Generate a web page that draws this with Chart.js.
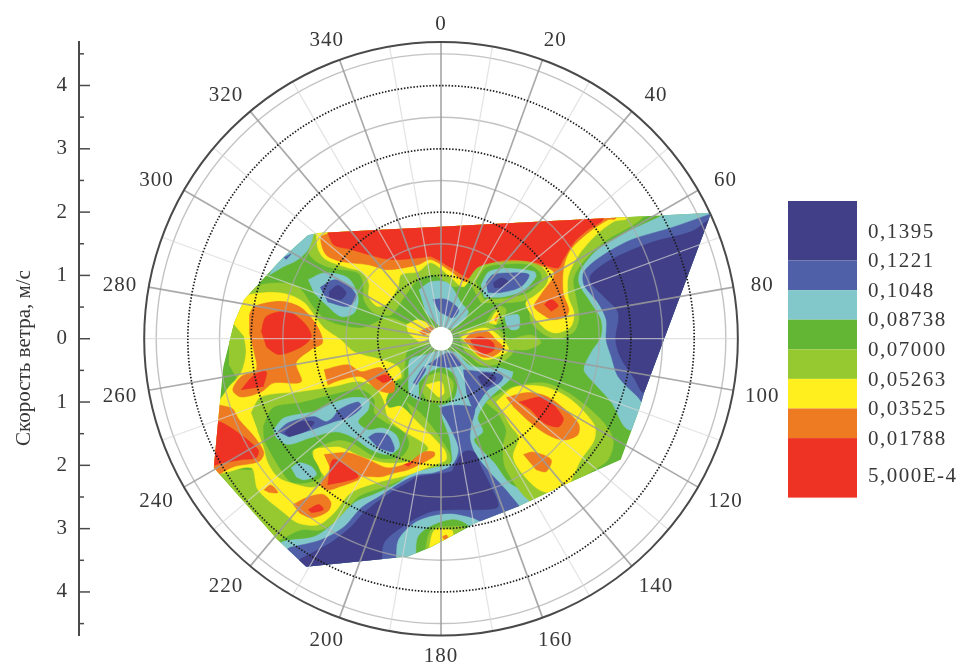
<!DOCTYPE html>
<html>
<head>
<meta charset="utf-8">
<title>Скорость ветра</title>
<script src="https://cdn.jsdelivr.net/npm/chart.js@4/dist/chart.umd.min.js"></script>
<style>
  html, body { margin: 0; background: #fff; }
  canvas { display: block; }
</style>
</head>
<body>
<canvas id="chart" width="960" height="670"></canvas>
<script>
// legend, darkest band first
const levelLabels = ['0,1395', '0,1221', '0,1048', '0,08738', '0,07000', '0,05263', '0,03525', '0,01788', '5,000E-4']
const bandColors = ['#403f87', '#5060a8', '#82c8cb', '#62b633', '#96c930', '#ffef1e', '#ee7a22', '#ee3224']
const [NAVY, BLUE, CYAN, GREEN, LIGHT, YELLOW, ORANGE, RED] = bandColors

// polar grid
const directionLabels = [0, 20, 40, 60, 80, 100, 120, 140, 160, 180, 200, 220, 240, 260, 280, 300, 320, 340]
const spokeDirections = [10, 30, 50, 70, 90, 110, 130, 150, 170, 190, 210, 230, 250, 270, 290, 310, 330, 350]
const dottedRings = [1, 2, 3, 4]
const solidRings = [1.5, 2.5, 3.5, 4.5]
const outerSpeed = 4.69
const hubSpeed = 0.19

// contour outlines, wind components [east, north] in m/s
const envelope = [[-1.94,1.67],[4.27,1.99],[3.21,-.85],[3.13,-1.12],[2.84,-1.91],[1.94,-2.31],[1.22,-2.65],[.55,-2.91],[-.16,-3.29],[-.52,-3.44],[-2.13,-3.60],[-2.58,-3.18],[-3.59,-2.04],[-3.52,-1.28],[-3.48,-.85],[-3.44,-.44],[-3.27,.25],[-3.11,.62],[-2.80,.96],[-2.48,1.30],[-2.10,1.64]]

const topLight = [[-2.02,1.64],[-2.09,1.36],[-1.97,1.22],[-1.74,1.12],[-1.31,1.04],[-1.23,.88],[-1.22,.62],[-1.06,.41],[-.79,.38],[-.58,.66],[-.36,.93],[-.11,1.01],[.21,.82],[.47,.90],[.63,.62],[1.37,.62],[1.42,.27],[1.66,.05],[1.85,0],[2.10,.11],[2.18,.33],[2.13,.66],[2.09,.93],[2.21,1.17],[2.56,1.52],[3.21,1.94],[3.21,2.3],[-2.02,2.3]]
const topYellow = [[-1.97,1.63],[-1.94,1.41],[-1.82,1.25],[-1.47,1.12],[-1.26,1.06],[-1.14,.88],[-1.14,.66],[-1.00,.51],[-.84,.57],[-.68,.82],[-.63,1.01],[-.36,1.06],[-.16,1.20],[.11,1.01],[.35,.82],[.52,1.04],[.74,1.14],[1.15,1.20],[1.47,1.17],[1.58,.98],[1.50,.77],[1.34,.54],[1.63,.17],[1.82,.09],[2.05,.19],[2.10,.41],[2.01,.66],[2.01,.98],[2.16,1.30],[2.42,1.61],[2.73,1.85],[2.95,1.91],[2.95,2.3],[-1.97,2.3]]
const topOrange = [[-1.77,1.67],[-1.90,1.60],[-1.82,1.33],[-1.58,1.22],[-1.15,1.17],[-.84,1.09],[-.36,1.17],[-.16,1.25],[.16,1.06],[.39,.90],[.58,1.01],[.84,1.12],[1.47,1.17],[1.79,1.04],[1.58,.70],[1.47,.51],[1.61,.38],[1.77,.30],[1.97,.35],[2.02,.46],[1.93,.73],[1.94,1.14],[2.05,1.41],[2.32,1.67],[2.64,1.88],[2.76,1.90],[2.76,2.3],[-1.77,2.3]]
const topRed = [[-1.79,1.67],[-1.69,1.48],[-1.42,1.41],[-1.15,1.33],[-.79,1.25],[-.32,1.28],[-.16,1.30],[.16,1.12],[.43,.96],[.52,1.01],[.74,1.17],[1.06,1.25],[1.42,1.22],[1.63,1.17],[1.85,1.12],[1.93,1.25],[2.10,1.52],[2.32,1.72],[2.57,1.90],[2.57,2.3],[-1.79,2.3]]
const smallRed = [[1.63,.54],[1.74,.62],[1.85,.52],[1.74,.43]]

const cellLight = [[.43,.93],[.58,1.12],[.84,1.20],[1.31,1.22],[1.58,1.14],[1.69,.98],[1.63,.82],[1.37,.62],[1.06,.57],[.63,.57]]
const cellGreen = [[.55,.90],[.71,1.12],[.95,1.17],[1.37,1.17],[1.55,1.06],[1.58,.93],[1.37,.73],[1.06,.65],[.68,.62]]
const cellCyan = [[.63,.85],[.76,1.06],[1.06,1.11],[1.47,1.06],[1.50,.98],[1.31,.77],[.98,.66],[.68,.66]]
const cellBlue = [[.71,.88],[.82,1.01],[1.11,1.04],[1.39,1.01],[1.26,.82],[.95,.73],[.74,.73]]
const cellNavy = [[.82,.88],[.95,.96],[1.06,.90],[.95,.81],[.84,.81]]
const eastCyan = [[1.00,.35],[1.22,.38],[1.23,.17],[1.11,.14],[1.03,.22]]
const sliverLight = [[.63,.14],[.90,.51],[1.03,.46],[.95,.25]]
const sliverYellow = [[.76,.25],[.87,.43],[.92,.43],[.87,.22]]
const sliverOrange = [[.84,.30],[.90,.38],[.87,.27]]

const hubEastLight = [[.27,.09],[.74,.22],[.95,.11],[1.15,-.17],[.95,-.38],[.63,-.41],[.36,-.17]]
const hubEastYellow = [[.32,.02],[.44,.11],[.71,.17],[.90,.06],[1.07,-.17],[.90,-.28],[.68,-.33],[.47,-.17]]
const hubEastOrange = [[.36,-.02],[.52,.11],[.74,.11],[.87,-.02],[.98,-.14],[.82,-.28],[.63,-.28],[.47,-.14]]
const hubEastRed = [[.46,-.02],[.63,.03],[.82,-.06],[.84,-.17],[.68,-.24],[.52,-.13]]
const eastStrip = [[1.07,-.02],[1.42,.06],[1.58,-.06],[1.37,-.17],[1.11,-.17]]

const eastEdgeCyan = [[3.52,1.96],[4.6,2.2],[3.6,-1.2],[2.97,-1.44],[2.69,-1.00],[2.42,-.70],[2.26,-.49],[2.37,-.22],[2.53,.03],[2.53,.30],[2.37,.57],[2.18,.88],[2.21,1.09],[2.48,1.41],[3.00,1.72]]
const eastEdgeBlue = [[4.23,1.96],[3.63,1.75],[3.00,1.56],[2.53,1.30],[2.26,1.06],[2.26,.85],[2.48,.57],[2.61,.30],[2.61,-.02],[2.69,-.28],[2.80,-.60],[3.11,-.92],[3.30,-1.12],[4.6,1.96]]
const eastEdgeNavy = [[4.23,1.88],[3.95,1.69],[3.32,1.52],[2.69,1.25],[2.37,1.01],[2.37,.88],[2.58,.66],[2.80,.41],[2.76,-.02],[2.84,-.30],[3.05,-.62],[3.21,-.84],[4.6,1.88]]

const hubNorthCyan = [[-.35,.77],[-.16,.90],[.11,.88],[.32,.57],[.43,.43],[.36,.30],[.19,.17],[0,.19],[-.24,.41]]
const hubNorthBlue = [[-.13,.62],[.08,.62],[.28,.46],[.19,.33],[-.03,.43]]
const hubWestYellow = [[-.55,.22],[-.36,.30],[-.11,.17],[-.16,.03],[-.32,-.05],[-.52,.09]]
const hubWestOrange = [[-.35,.11],[-.16,.19],[-.11,.14],[-.27,.05]]

const ovalGreen = [[-.35,-.70],[-.19,-.54],[.03,-.46],[.24,-.62],[.21,-.93],[.03,-1.04],[-.27,-1.04],[-.35,-.88]]
const ovalLight = [[-.32,-.81],[-.21,-.60],[0,-.54],[.19,-.68],[.16,-.88],[0,-1.01],[-.21,-.99]]
const ovalYellow = [[-.24,-.73],[0,-.68],[.05,-.85],[-.03,-.92],[-.13,-.84]]
const hubSouthBlue = [[-.21,-.41],[.13,-.22],[.32,-.41],[.08,-.46]]
const hubSliverBlue = [[-.44,-.70],[-.27,-.44],[-.24,-.49],[-.39,-.73]]
const hubSouthEastBlue = [[.35,-.49],[.63,-.52],[.87,-.54],[.98,-.60],[.92,-.70],[.74,-.81],[.60,-1.00],[.52,-1.12],[.40,-.85]]
const hubSouthEastNavy = [[.58,-.60],[.71,-.54],[.87,-.62],[.74,-.76],[.63,-.70]]

const southCyan = [[1.14,-.52],[1.11,-.62],[.95,-.77],[.71,-1.00],[.58,-1.25],[.66,-1.47],[.52,-1.60],[.71,-1.83],[.84,-1.96],[1.07,-2.27],[1.47,-2.53],[1.47,-3.0],[.55,-3.2],[-.16,-3.6],[-.52,-3.8],[-2.13,-3.9],[-2.8,-3.5],[-2.53,-3.22],[-2.01,-3.13],[-1.69,-2.91],[-1.37,-2.59],[-1.06,-2.46],[-.74,-2.31],[-.43,-2.12],[-.11,-2.04],[.16,-1.96],[.16,-1.75],[.13,-1.55],[.03,-1.28],[-.03,-1.07],[-.27,-1.00],[-.49,-.88],[-.51,-.57],[-.49,-.33],[-.24,-.25],[0,-.19],[.24,-.22],[.44,-.41],[.66,-.46],[.95,-.46]]
const southBlue = [[-2.40,-3.30],[-1.90,-3.18],[-1.53,-2.97],[-1.26,-2.67],[-1.00,-2.51],[-.63,-2.27],[-.36,-2.15],[-.11,-2.12],[.16,-2.01],[.25,-1.88],[.28,-1.75],[.24,-1.60],[.11,-1.33],[0,-1.09],[.52,-1.09],[.47,-1.39],[.46,-1.60],[.55,-1.83],[.76,-2.10],[1.06,-2.43],[1.30,-2.80],[.63,-2.88],[.51,-2.83],[.16,-2.76],[-.16,-2.80],[-.43,-2.91],[-.68,-3.18],[-.79,-3.7],[-2.13,-3.9],[-2.7,-3.5]]
const southNavy = [[-2.24,-3.49],[-1.74,-3.22],[-1.42,-2.97],[-1.22,-2.75],[-.84,-2.46],[-.52,-2.27],[-.36,-2.18],[.16,-2.10],[.21,-2.02],[.36,-1.79],[.52,-1.79],[.63,-2.02],[.79,-2.34],[.90,-2.65],[.63,-2.70],[.16,-2.70],[-.16,-2.73],[-.52,-2.91],[-.90,-3.22],[-1.00,-3.7],[-2.13,-3.9],[-2.5,-3.7]]
const tipGreen = [[-.39,-3.6],[-.36,-3.13],[-.11,-2.94],[.21,-2.86],[.44,-2.97],[.5,-3.3]]
const tipLight = [[-.28,-3.6],[-.16,-3.02],[.16,-2.97],[.36,-2.99],[.4,-3.3]]
const tipYellow = [[-.21,-3.5],[-.11,-3.03],[.16,-3.02],[.19,-3.06],[.2,-3.4]]
const tipOrange = [[.02,-3.13],[.08,-3.10],[.11,-3.14],[.05,-3.18]]

const southEastLight = [[.71,-1.01],[.82,-.93],[1.15,-.76],[1.63,-.70],[2.05,-.88],[2.53,-1.28],[2.72,-1.60],[2.64,-1.91],[2.37,-2.10],[1.94,-2.4],[1.47,-2.6],[1.03,-2.07],[.98,-1.71],[1.03,-1.44],[.90,-1.17]]
const southEastYellow = [[.87,-1.00],[1.15,-.77],[1.63,-.76],[2.05,-.96],[2.42,-1.36],[2.42,-1.60],[2.21,-1.91],[1.94,-2.4],[1.58,-2.4],[1.26,-2.10],[1.14,-1.86],[1.23,-1.56],[1.11,-1.39],[.95,-1.12]]
const southEastOrange = [[1.03,-.93],[1.37,-.85],[1.69,-.92],[2.05,-1.20],[2.18,-1.36],[2.16,-1.52],[1.94,-1.60],[1.69,-1.52],[1.42,-1.33],[1.14,-1.07]]
const southEastRed = [[1.23,-1.00],[1.63,-.93],[1.93,-1.25],[1.86,-1.39],[1.63,-1.33],[1.42,-1.12]]
const southEastOrangeLow = [[1.30,-1.83],[1.45,-1.79],[1.74,-1.91],[1.66,-2.10],[1.50,-2.07]]

const cornerCyan = [[-2.72,1.00],[-2.3,1.7],[-2.01,1.9],[-2.01,1.67],[-2.10,1.41],[-2.26,1.25],[-2.48,1.14]]
const cornerBlue = [[-2.48,1.28],[-2.37,1.34],[-2.45,1.25]]
const westCellCyan = [[-2.10,.93],[-1.85,1.04],[-1.47,.96],[-1.31,.66],[-1.37,.41],[-1.58,.35],[-1.82,.54],[-2.01,.73]]
const westCellBlue = [[-1.91,.81],[-1.69,.93],[-1.47,.85],[-1.34,.66],[-1.47,.51],[-1.79,.58]]
const westCellNavy = [[-1.77,.74],[-1.63,.84],[-1.50,.73],[-1.58,.62],[-1.77,.66]]

const westLight = [[-3.35,.09],[-3.21,.51],[-2.92,.82],[-2.58,.88],[-2.26,.82],[-2.01,.49],[-1.79,.28],[-1.26,.17],[-.84,.33],[-.58,.25],[-.21,.11],[-.16,-.06],[-.52,-.17],[-.58,-.49],[-.63,-.65],[-3.16,-.65],[-3.35,-.41]]
const lowLight = [[-3.7,-2.13],[-2.75,-3.2],[-2.21,-3.02],[-1.90,-3.02],[-1.63,-2.86],[-1.31,-2.50],[-.90,-2.34],[-.43,-2.15],[0,-1.99],[0,-1.83],[-2.21,-2.07],[-3.32,-2.07]]
const channelLight = [[-.55,-1.00],[-.28,-1.22],[.13,-1.80],[.13,-1.97],[-.10,-2.00]]
const westYellow = [[-3.29,.25],[-3.11,.65],[-2.76,.73],[-2.42,.70],[-2.16,.57],[-2.01,.38],[-1.85,.17],[-1.58,-.02],[-1.37,-.21],[-.95,-.33],[-.68,-.44],[-.63,-.60],[-.70,-.65],[-.87,-.96],[-.82,-1.09],[-.63,-1.07],[-.36,-1.33],[.05,-1.75],[.08,-1.91],[-.11,-1.99],[-.52,-2.15],[-1.00,-2.27],[-1.42,-2.43],[-1.69,-2.75],[-1.94,-2.94],[-2.26,-2.91],[-2.48,-2.75],[-2.89,-2.39],[-3.00,-2.04],[-3.51,-2.13],[-3.8,-2.04],[-3.8,-1.28],[-3.49,-.96],[-3.35,-.76],[-3.16,-.54],[-3.08,-.22],[-3.11,.03]]
const midLight = [[-3.00,-1.17],[-2.84,-.92],[-2.21,-.84],[-1.69,-.76],[-1.31,-.68],[-1.06,-.76],[-.92,-.96],[-.84,-1.25],[-.63,-1.44],[-.21,-1.72],[-.43,-1.91],[-.84,-1.96],[-1.22,-1.87],[-1.58,-1.71],[-1.79,-1.71],[-2.01,-1.75],[-2.01,-1.91],[-1.94,-2.07],[-1.85,-2.18],[-2.01,-2.34],[-2.37,-2.27],[-2.58,-2.18],[-2.73,-1.96],[-2.80,-1.71],[-2.90,-1.44]]
const midGreen = [[-2.81,-1.39],[-2.65,-1.09],[-2.21,-1.01],[-1.69,-.88],[-1.26,-.81],[-1.06,-.96],[-1.06,-1.17],[-.90,-1.31],[-.58,-1.49],[-.51,-1.67],[-.63,-1.86],[-1.00,-1.88],[-1.42,-1.64],[-1.63,-1.60],[-1.94,-1.71],[-2.05,-1.80],[-1.94,-2.02],[-1.90,-2.18],[-2.10,-2.27],[-2.37,-2.26],[-2.53,-2.07],[-2.69,-1.80],[-2.80,-1.60]]
const midCyan = [[-2.65,-1.44],[-2.48,-1.25],[-2.01,-1.15],[-1.69,-1.01],[-1.42,-.93],[-1.15,-.96],[-1.15,-1.12],[-1.31,-1.31],[-1.15,-1.44],[-.92,-1.41],[-.71,-1.52],[-.66,-1.71],[-.82,-1.83],[-1.11,-1.75],[-1.39,-1.56],[-1.66,-1.47],[-2.05,-1.56],[-2.42,-1.67],[-2.61,-1.56]]
const midBlue = [[-2.58,-1.47],[-2.42,-1.33],[-2.01,-1.23],[-1.82,-1.31],[-1.71,-1.25],[-1.61,-1.12],[-1.31,-1.00],[-1.26,-1.09],[-1.47,-1.25],[-1.69,-1.31],[-2.05,-1.44],[-2.42,-1.55]]
const midNavy = [[-2.48,-1.49],[-2.29,-1.33],[-2.01,-1.31],[-2.10,-1.44],[-2.40,-1.55]]
const midBlueLow = [[-1.15,-1.56],[-1.03,-1.49],[-.84,-1.52],[-.74,-1.71],[-.76,-1.79],[-1.00,-1.72]]
const midCyanLow = [[-2.37,-2.04],[-2.24,-1.96],[-2.05,-2.02],[-1.97,-2.15],[-2.16,-2.23],[-2.29,-2.18]]

const tongueOrange = [[-1.85,-1.83],[-1.47,-1.80],[-1.15,-1.91],[-.84,-2.04],[-.52,-1.96],[-.27,-1.79],[-.11,-1.79],[-.11,-1.86],[-.52,-2.07],[-.74,-2.12],[-.95,-2.18],[-1.26,-2.18],[-1.31,-2.23],[-1.61,-2.34],[-1.77,-2.39],[-1.90,-2.31],[-1.74,-2.07]]
const tongueRed = [[-1.79,-2.31],[-1.71,-1.91],[-1.47,-2.02],[-1.31,-2.18],[-1.58,-2.27]]
const tongueRedSliver = [[-.58,-1.99],[-.43,-1.94],[-.52,-2.02]]
const lowOrange = [[-2.34,-2.62],[-2.10,-2.50],[-1.86,-2.46],[-1.74,-2.59],[-1.79,-2.73],[-2.05,-2.83],[-2.24,-2.75]]
const lowRed = [[-2.10,-2.70],[-1.93,-2.62],[-1.86,-2.70],[-2.05,-2.75]]
const lowOrangeSmall = [[-2.80,-2.39],[-2.69,-2.31],[-2.58,-2.43],[-2.72,-2.43]]

const sw240Orange = [[-3.8,-2.10],[-3.8,-1.09],[-3.32,-1.09],[-3.19,-1.28],[-2.95,-1.55],[-2.80,-1.80],[-2.88,-1.94],[-3.27,-2.02],[-3.52,-2.15]]
const sw240Red = [[-3.8,-2.07],[-3.8,-1.31],[-3.51,-1.31],[-3.27,-1.44],[-2.89,-1.75],[-2.92,-1.88],[-3.16,-1.91],[-3.43,-1.96]]
const westOrange = [[-3.03,.38],[-2.95,.51],[-2.53,.59],[-2.21,.49],[-1.97,.22],[-1.87,-.06],[-2.05,-.17],[-2.29,-.38],[-2.21,-.68],[-2.65,-.70],[-2.84,-.84],[-3.16,-.92],[-3.29,-.81],[-3.16,-.60],[-2.92,-.49],[-2.95,-.22],[-3.03,.09]]
const westRed = [[-2.84,.11],[-2.76,.35],[-2.42,.43],[-2.16,.25],[-2.05,.03],[-2.21,-.13],[-2.56,-.25],[-2.76,-.13]]
const westRedLow = [[-3.16,-.81],[-2.95,-.57],[-2.76,-.52],[-2.81,-.76]]
const streakOrange = [[-1.85,-.49],[-1.47,-.41],[-1.26,-.52],[-.95,-.46],[-.74,-.70],[-.76,-.85],[-1.00,-.81],[-1.26,-.60],[-1.58,-.65],[-1.79,-.73]]
const streakRed = [[-1.03,-.62],[-.87,-.57],[-.79,-.65],[-.92,-.70]]

// painted first to last
const paintOrder = [
  [envelope, GREEN], [topLight, LIGHT], [westLight, LIGHT], [lowLight, LIGHT],
  [southCyan, CYAN], [channelLight, LIGHT], [westYellow, YELLOW], [topYellow, YELLOW],
  [midLight, LIGHT], [midGreen, GREEN], [sw240Orange, ORANGE], [sw240Red, RED],
  [westOrange, ORANGE], [westRed, RED], [westRedLow, RED], [streakOrange, ORANGE], [streakRed, RED],
  [tongueOrange, ORANGE], [tongueRed, RED], [tongueRedSliver, RED],
  [lowOrange, ORANGE], [lowRed, RED], [lowOrangeSmall, ORANGE],
  [topOrange, ORANGE], [topRed, RED], [smallRed, RED],
  [cellLight, LIGHT], [cellGreen, GREEN], [cellCyan, CYAN], [cellBlue, BLUE], [cellNavy, NAVY],
  [eastCyan, CYAN], [sliverLight, LIGHT], [sliverYellow, YELLOW], [sliverOrange, ORANGE],
  [eastStrip, LIGHT], [hubEastLight, LIGHT], [hubEastYellow, YELLOW], [hubEastOrange, ORANGE], [hubEastRed, RED],
  [eastEdgeCyan, CYAN], [eastEdgeBlue, BLUE], [eastEdgeNavy, NAVY],
  [hubNorthCyan, CYAN], [hubNorthBlue, BLUE], [hubWestYellow, YELLOW], [hubWestOrange, ORANGE],
  [southBlue, BLUE], [southNavy, NAVY], [tipGreen, GREEN], [tipLight, LIGHT], [tipYellow, YELLOW], [tipOrange, ORANGE],
  [ovalGreen, GREEN], [ovalLight, LIGHT], [ovalYellow, YELLOW],
  [hubSouthBlue, BLUE], [hubSliverBlue, BLUE], [hubSouthEastBlue, BLUE], [hubSouthEastNavy, NAVY],
  [southEastLight, LIGHT], [southEastYellow, YELLOW], [southEastOrange, ORANGE], [southEastRed, RED], [southEastOrangeLow, ORANGE],
  [cornerCyan, CYAN], [cornerBlue, BLUE], [westCellCyan, CYAN], [westCellBlue, BLUE], [westCellNavy, NAVY],
  [midCyan, CYAN], [midBlue, BLUE], [midNavy, NAVY], [midBlueLow, BLUE], [midCyanLow, CYAN]
]

const SERIF = '"Liberation Serif", serif'
const TEXT = '#383838'

const polarGrid = {
  id: 'polarGrid',
  // contours stop at the edge of the measured area
  beforeDatasetsDraw(chart) {
    const { ctx, scales: { x, y } } = chart
    ctx.save()
    ctx.beginPath()
    envelope.forEach(([east, north]) => ctx.lineTo(x.getPixelForValue(east), y.getPixelForValue(north)))
    ctx.closePath()
    ctx.clip()
  },
  afterDatasetsDraw(chart) {
    const { ctx, scales: { x, y } } = chart
    ctx.restore()

    const cx = x.getPixelForValue(0)
    const cy = y.getPixelForValue(0)
    const px = speed => x.getPixelForValue(speed) - cx
    const at = (dir, speed) => {
      const a = dir * Math.PI / 180
      return [cx + px(speed) * Math.sin(a), cy - px(speed) * Math.cos(a)]
    }
    const ring = (speed, color, width, dash) => {
      ctx.beginPath()
      ctx.arc(cx, cy, px(speed), 0, Math.PI * 2)
      ctx.strokeStyle = color
      ctx.lineWidth = width
      ctx.setLineDash(dash)
      ctx.stroke()
      ctx.setLineDash([])
    }
    const spoke = (dir, color, width) => {
      ctx.beginPath()
      ctx.moveTo(...at(dir, hubSpeed))
      ctx.lineTo(...at(dir, outerSpeed))
      ctx.strokeStyle = color
      ctx.lineWidth = width
      ctx.stroke()
    }

    ctx.save()
    ctx.beginPath()
    ctx.arc(cx, cy, px(hubSpeed), 0, Math.PI * 2)
    ctx.fillStyle = '#fff'
    ctx.fill()

    solidRings.forEach(s => ring(s, 'rgba(170,170,170,.7)', 1.4, []))
    spokeDirections.forEach(d => spoke(d, 'rgba(215,215,215,.7)', 1.2))
    directionLabels.forEach(d => spoke(d, 'rgba(155,155,155,.85)', 1.7))
    dottedRings.forEach(s => ring(s, '#1c1c1c', 1.7, [1.5, 1.7]))
    ring(outerSpeed, '#4a4a4a', 2, [])

    // direction labels sit just off the outer circle, offset by their own size
    ctx.fillStyle = TEXT
    ctx.font = '21px ' + SERIF
    ctx.letterSpacing = '1px'
    ctx.textAlign = 'center'
    ctx.textBaseline = 'middle'
    directionLabels.forEach(d => {
      const [ex, ey] = at(d, outerSpeed)
      const s = Math.sin(d * Math.PI / 180)
      const c = Math.cos(d * Math.PI / 180)
      const lx = ex + s * 12 + 17 * Math.sign(Math.round(s * 1000)) * Math.min(1, Math.abs(s) * 1.5)
      const ly = ey - c * (24 - 5 * c ** 16) + 2
      ctx.fillText(String(d), lx, ly)
    })

    // speed axis ticks point inwards
    ctx.strokeStyle = '#4a4a4a'
    ctx.lineWidth = 1.5
    y.ticks.forEach(t => {
      const py = y.getPixelForValue(t.value)
      ctx.beginPath()
      ctx.moveTo(x.left, py)
      ctx.lineTo(x.left + (Number.isInteger(t.value) ? 11 : 5), py)
      ctx.stroke()
    })

    // axis title
    ctx.save()
    ctx.translate(24, 358)
    ctx.rotate(-Math.PI / 2)
    ctx.letterSpacing = '0px'
    ctx.fillText('Скорость ветра, м/с', 0, 0)
    ctx.restore()

    // colour bar
    let top = 201
    bandColors.forEach((color, i) => {
      const h = i === 0 || i === bandColors.length - 1 ? 59.5 : 29.6
      ctx.fillStyle = color
      ctx.fillRect(788, top, 69, h)
      top += h
    })
    ctx.fillStyle = TEXT
    ctx.textAlign = 'left'
    ctx.letterSpacing = '1.5px'
    levelLabels.forEach((label, i) => {
      ctx.fillText(label, 868, i === levelLabels.length - 1 ? 476 : 232 + i * 29.6)
    })
    ctx.restore()
  }
}

new Chart(document.getElementById('chart'), {
  type: 'scatter',
  data: {
    datasets: paintOrder.map(([points, color], i) => ({
      data: points.map(([east, north]) => ({ x: east, y: north })),
      showLine: true,
      fill: 'shape',
      backgroundColor: color,
      borderColor: color,
      borderWidth: 0.5,
      pointRadius: 0,
      tension: points === envelope ? 0 : 0.3,
      capBezierPoints: false,
      clip: false,
      order: paintOrder.length - i
    }))
  },
  options: {
    responsive: false,
    animation: false,
    events: [],
    layout: { padding: { top: 42, bottom: 35, left: 0, right: 0 } },
    plugins: { legend: { display: false }, tooltip: { enabled: false } },
    scales: {
      x: { type: 'linear', display: false, min: -5.72, max: 8.2 },
      y: {
        type: 'linear',
        min: -4.68,
        max: 4.687,
        afterFit(scale) { scale.width = 79 },
        grid: { display: false, drawTicks: false },
        border: { color: '#4a4a4a', width: 2 },
        ticks: {
          stepSize: 0.5,
          includeBounds: false,
          autoSkip: false,
          maxRotation: 0,
          padding: 12,
          color: TEXT,
          font: { family: SERIF, size: 21 },
          callback: v => Number.isInteger(v) ? String(Math.abs(v)) : ''
        }
      }
    }
  },
  plugins: [polarGrid]
})
</script>
</body>
</html>
